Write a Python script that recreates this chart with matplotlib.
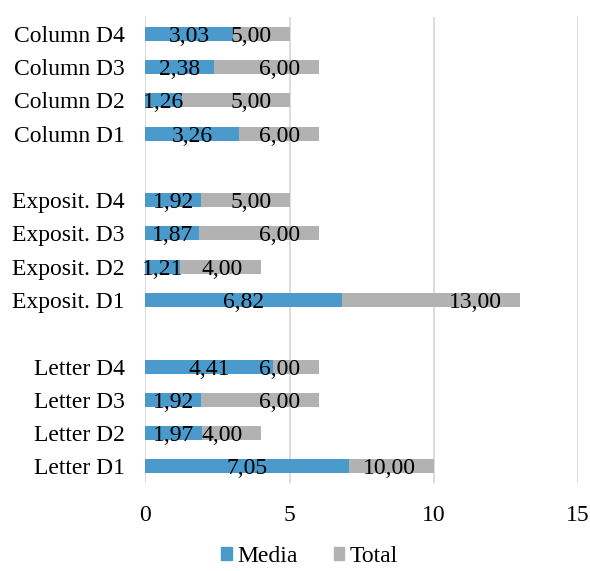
import matplotlib
matplotlib.use("Agg")
import matplotlib.pyplot as plt
from matplotlib.patches import Patch
import numpy as np

# bottom-to-top order, one group of four per text type
groups = ['Letter', 'Exposit.', 'Column']
levels = ['D1', 'D2', 'D3', 'D4']
media = [7.05, 1.97, 1.92, 4.41,     # Letter
         6.82, 1.21, 1.87, 1.92,     # Exposit.
         3.26, 1.26, 2.38, 3.03]     # Column
total = [10, 4, 6, 6,
         13, 4, 6, 5,
         6, 5, 6, 5]

labels = [f'{g} {d}' for g in groups for d in levels]
# leave an empty slot between groups
y = np.array([gi * 5 + di for gi in range(len(groups)) for di in range(len(levels))])

blue = '#4A9BCB'
grey = '#B2B2B2'
fs = 17
plt.rcParams['font.family'] = ['Liberation Serif', 'DejaVu Serif']

fig = plt.figure(figsize=(5.90, 5.71), dpi=100)
ax = fig.add_axes([0.2466, 0.1541, 0.7331, 0.8161])

h = 0.42
tbars = ax.barh(y, total, h, color=grey, zorder=2)
mbars = ax.barh(y, media, h, color=blue, zorder=3)

def fmt(v):
    return f'{v:.2f}'.replace('.', ',')

for rect, v in zip(mbars, media):
    ax.annotate(fmt(v), xy=(v / 2, rect.get_y() + h / 2),
                ha='center', va='center_baseline', fontsize=fs, zorder=4)
for rect, v in zip(tbars, total):
    ax.annotate(fmt(v), xy=(v, rect.get_y() + h / 2), xytext=(-13, 0),
                textcoords='offset points', ha='right', va='center_baseline',
                fontsize=fs, zorder=4)

ax.set_xlim(0, 15)
ax.set_ylim(-0.5, 13.5)
ax.set_xticks([0, 5, 10, 15])
ax.set_yticks(y)
ax.set_yticklabels(labels)
ax.tick_params(axis='both', length=0, labelsize=fs)
ax.tick_params(axis='y', pad=15)
ax.tick_params(axis='x', pad=16)
ax.xaxis.grid(True, color='#D9D9D9', linewidth=1.3, zorder=0)
for s in ax.spines.values():
    s.set_visible(False)

handles = [Patch(color=blue, label='Media'), Patch(color=grey, label='Total')]
fig.legend(handles=handles, loc='lower center', bbox_to_anchor=(0.525, -0.03),
           ncol=2, frameon=False, fontsize=fs, handlelength=0.45,
           handleheight=0.45, handletextpad=0.25, columnspacing=1.5)

fig.savefig('out.png', dpi=100)
